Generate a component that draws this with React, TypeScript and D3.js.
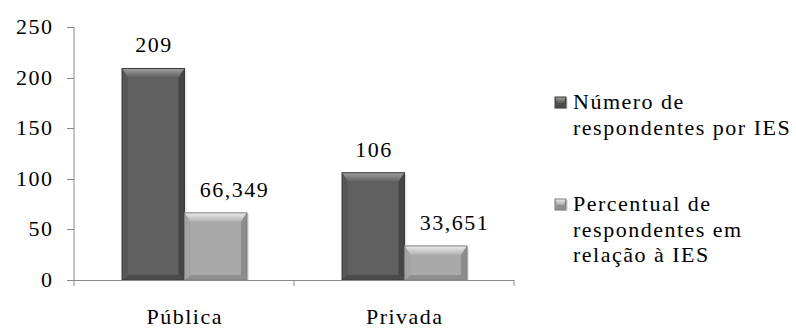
import React from "react";
import * as d3 from "d3";

const categories = ["Pública", "Privada"];
const seriesNames = ["Número de respondentes por IES", "Percentual de respondentes em relação à IES"];
const numeroRespondentes = [209, 106];
const percentualRespondentes = [66.349, 33.651];
const labelsNumero = ["209", "106"];
const labelsPercentual = ["66,349", "33,651"];
const yTicks = [0, 50, 100, 150, 200, 250];
const legendLines = [["Número de", "respondentes por IES"], ["Percentual de", "respondentes em", "relação à IES"]];

const W = 796, H = 329;
const FONT = "Liberation Serif";
const FS = 22;
const LS = 1.5;

const palettes = [
  { face: "#5f5f5f", topA: "#a0a0a0", topB: "#606060", left: "#575757", right: "#464646", bottom: "#4b4b4b", stroke: "#3a3a3a" },
  { face: "#a9a9a9", topA: "#ececec", topB: "#b0b0b0", left: "#a3a3a3", right: "#8c8c8c", bottom: "#8e8e8e", stroke: "#7e7e7e" },
];

function BevelBar({ x, y, w, h, p, id, b = 6 }: any) {
  const bt = Math.min(9, h / 2), bs = Math.min(b, w / 2), bb = Math.min(5, h / 2);
  return (
    <g>
      <rect x={x + 2} y={y + 1} width={w} height={h} fill="#000" opacity={0.1} />
      <rect x={x} y={y} width={w} height={h} fill={p.face} />
      <polygon points={`${x},${y} ${x + w},${y} ${x + w - bs},${y + bt} ${x + bs},${y + bt}`} fill={`url(#${id})`} />
      <polygon points={`${x},${y} ${x + bs},${y + bt} ${x + bs},${y + h - bb} ${x},${y + h}`} fill={p.left} />
      <polygon points={`${x + w},${y} ${x + w - bs},${y + bt} ${x + w - bs},${y + h - bb} ${x + w},${y + h}`} fill={p.right} />
      <polygon points={`${x},${y + h} ${x + bs},${y + h - bb} ${x + w - bs},${y + h - bb} ${x + w},${y + h}`} fill={p.bottom} />
      <rect x={x} y={y} width={w} height={h} fill="none" stroke={p.stroke} strokeWidth={1} />
    </g>
  );
}

function SText({ x, y, anchor = "middle", children }: any) {
  // letter-spacing trails after the last glyph; compensate so anchors line up
  const dx = anchor === "end" ? LS : anchor === "middle" ? LS / 2 : 0;
  return (
    <text x={x + dx} y={y} textAnchor={anchor} fontFamily={FONT} fontSize={FS} letterSpacing={LS} fill="#000">
      {children}
    </text>
  );
}

export default function App() {
  const y = d3.scaleLinear().domain([0, 250]).range([280, 27]);
  const x0 = d3.scaleBand().domain(categories).range([74, 514]).paddingInner(0).paddingOuter(0);
  const x1 = d3.scaleBand().domain(seriesNames).range([48, 173]).padding(0);
  const series = [numeroRespondentes, percentualRespondentes];
  const labels = [labelsNumero, labelsPercentual];
  const labelDx = [0, 18];
  const axisColor = "#8a8a8a";

  return (
    <svg width={W} height={H} style={{ position: "absolute", left: 0, top: 0 }}>
      <defs>
        {palettes.map((p, i) => (
          <linearGradient key={i} id={`top${i}`} x1="0" y1="0" x2="0" y2="1">
            <stop offset="0" stopColor={p.topA} />
            <stop offset="1" stopColor={p.topB} />
          </linearGradient>
        ))}
      </defs>
      <rect width={W} height={H} fill="#fff" />
      {/* y axis */}
      <line x1={74} x2={74} y1={y(250)} y2={y(0)} stroke={axisColor} />
      {yTicks.map((t) => (
        <g key={t}>
          <line x1={67} x2={74} y1={Math.round(y(t)) + 0.5} y2={Math.round(y(t)) + 0.5} stroke={axisColor} />
          <SText x={52} y={y(t) + 7} anchor="end">{String(t)}</SText>
        </g>
      ))}
      {/* bars */}
      {categories.map((c, ci) =>
        seriesNames.map((s, si) => {
          const v = series[si][ci];
          const bx = (x0(c) as number) + (x1(s) as number);
          const bw = x1.bandwidth();
          return (
            <g key={c + s}>
              <BevelBar x={bx} y={y(v)} w={bw} h={y(0) - y(v)} p={palettes[si]} id={`top${si}`} />
              <SText x={bx + bw / 2 + labelDx[si]} y={y(v) - 16}>{labels[si][ci]}</SText>
            </g>
          );
        })
      )}
      {/* x axis */}
      <line x1={74} x2={514} y1={280.5} y2={280.5} stroke={axisColor} />
      {[...categories.map((c) => x0(c) as number), 514].map((t, i) => (
        <line key={i} x1={t} x2={t} y1={280} y2={286} stroke={axisColor} />
      ))}
      {categories.map((c) => (
        <SText key={c} x={(x0(c) as number) + x0.bandwidth() / 2} y={324}>{c}</SText>
      ))}
      {/* legend */}
      {legendLines.map((lines, li) => {
        const base = li === 0 ? 109 : 211;
        return (
          <g key={li}>
            <BevelBar x={555} y={base - 12} w={11} h={11} p={palettes[li]} id={`top${li}`} b={2} />
            {lines.map((ln, k) => (
              <SText key={k} x={573} y={base + k * 25.5} anchor="start">{ln}</SText>
            ))}
          </g>
        );
      })}
    </svg>
  );
}
